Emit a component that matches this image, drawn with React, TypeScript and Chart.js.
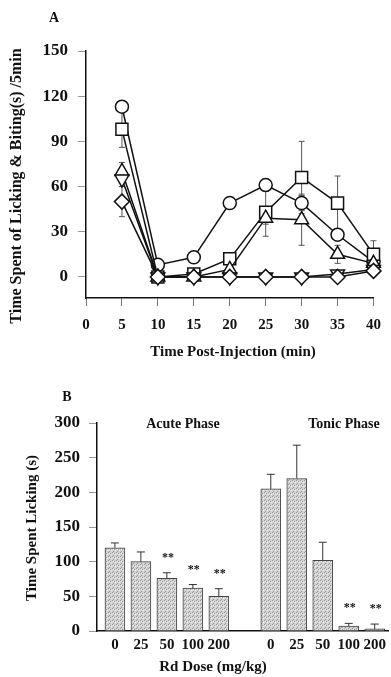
import React, { useEffect, useRef } from 'react';
import { Chart, registerables } from 'chart.js';

Chart.register(...registerables);

const FONT = "'Liberation Serif', 'Times New Roman', serif";

// ---------- Panel A data ----------
const timePoints = [5, 10, 15, 20, 25, 30, 35, 40];
const circleVals = [113, 8, 13, 49, 61, 49, 28, 10];
const squareVals = [98, 0, 2, 12, 43, 66, 49, 15];
const triangleVals = [70, 0, 0, 5, 39, 38, 15, 9];
const invTriangleVals = [65, 0, 0, 0, 0, 0, 2, 5];
const diamondVals = [50, 0, 0, 0, 0, 0, 0, 4];
const circleErr = [3, 2, 2, 3, 4, 5, 4, 3];
const squareErr = [12, 0, 2, 3, 16, 24, 18, 9];
const triangleErr = [6, 0, 0, 3, 4, 17, 6, 3];
const invTriangleErr = [5, 0, 0, 0, 0, 0, 2, 2];
const diamondErr = [10, 0, 0, 0, 0, 0, 0, 2];
const xTicksA = [0, 5, 10, 15, 20, 25, 30, 35, 40];
const yTicksA = [0, 30, 60, 90, 120, 150];

// ---------- Panel B data ----------
const doseLabels = ['0', '25', '50', '100', '200'];
const acuteVals = [120, 100, 76, 62, 50];
const acuteErr = [7, 14, 8, 5, 11];
const acuteSig = ['', '', '**', '**', '**'];
const tonicVals = [205, 220, 102, 7, 3];
const tonicErr = [21, 48, 26, 4, 7];
const tonicSig = ['', '', '', '**', '**'];
const yTicksB = [0, 50, 100, 150, 200, 250, 300];

function makePattern(ctx: CanvasRenderingContext2D) {
  const c = document.createElement('canvas');
  c.width = 4;
  c.height = 4;
  const p = c.getContext('2d')!;
  p.fillStyle = '#d2d2d2';
  p.fillRect(0, 0, 4, 4);
  p.fillStyle = '#9a9a9a';
  p.fillRect(0, 0, 1, 1);
  p.fillRect(2, 1, 1, 1);
  p.fillRect(1, 3, 1, 1);
  p.fillStyle = '#eeeeee';
  p.fillRect(3, 2, 1, 1);
  p.fillRect(1, 1, 1, 1);
  return ctx.createPattern(c, 'repeat');
}

function text(ctx: CanvasRenderingContext2D, s: string, x: number, y: number, font: string, rot = 0) {
  ctx.save();
  ctx.translate(x, y);
  if (rot) ctx.rotate(rot);
  ctx.font = font;
  ctx.fillStyle = '#111';
  ctx.textAlign = 'center';
  ctx.textBaseline = 'middle';
  ctx.fillText(s, 0, 0);
  ctx.restore();
}

const PanelA: React.FC = () => {
  const ref = useRef<HTMLCanvasElement>(null);
  useEffect(() => {
    const series = [
      { vals: diamondVals, err: diamondErr, style: 'rectRot', r: 7.5, rot: 0 },
      { vals: invTriangleVals, err: invTriangleErr, style: 'triangle', r: 8, rot: 180 },
      { vals: triangleVals, err: triangleErr, style: 'triangle', r: 8, rot: 0 },
      { vals: squareVals, err: squareErr, style: 'rect', r: 8.5, rot: 0 },
      { vals: circleVals, err: circleErr, style: 'circle', r: 6.5, rot: 0 },
    ];
    const errPlugin = {
      id: 'errA',
      beforeDatasetsDraw(chart: any) {
        const { ctx } = chart;
        const xs = chart.scales.x;
        const ys = chart.scales.y;
        ctx.save();
        ctx.strokeStyle = '#555';
        ctx.lineWidth = 1;
        series.forEach((s) => {
          s.vals.forEach((v, j) => {
            const e = s.err[j];
            if (!e) return;
            const x = xs.getPixelForValue(timePoints[j]);
            const y1 = ys.getPixelForValue(v + e);
            const y2 = ys.getPixelForValue(v - e);
            ctx.beginPath();
            ctx.moveTo(x, y1);
            ctx.lineTo(x, y2);
            ctx.moveTo(x - 3, y1);
            ctx.lineTo(x + 3, y1);
            ctx.moveTo(x - 3, y2);
            ctx.lineTo(x + 3, y2);
            ctx.stroke();
          });
        });
        ctx.restore();
      },
      afterDraw(chart: any) {
        const ctx = chart.ctx;
        text(ctx, 'A', 54, 18, `bold 14px ${FONT}`);
        text(ctx, 'Time Spent of Licking & Biting(s) /5min', 17, 186, `bold 16px ${FONT}`, -Math.PI / 2);
        text(ctx, 'Time Post-Injection (min)', 233, 352, `bold 15px ${FONT}`);
      },
    };
    const chart = new Chart(ref.current!, {
      type: 'line',
      data: {
        datasets: series.map((s) => ({
          data: s.vals.map((v, j) => ({ x: timePoints[j], y: v })),
          borderColor: '#111',
          borderWidth: 1.5,
          pointStyle: s.style as any,
          pointRadius: s.r,
          pointRotation: s.rot,
          pointBackgroundColor: '#fff',
          pointBorderColor: '#111',
          pointBorderWidth: 1.5,
          tension: 0,
          clip: false as any,
        })),
      },
      options: {
        animation: false,
        responsive: false,
        events: [],
        layout: { padding: { left: 0, top: 51, right: 11, bottom: 0 } },
        plugins: { legend: { display: false }, tooltip: { enabled: false } },
        scales: {
          x: {
            type: 'linear',
            min: 0,
            max: 40,
            afterBuildTicks: (s: any) => {
              s.ticks = xTicksA.map((v) => ({ value: v }));
            },
            afterFit: (s: any) => {
              s.height = 72;
            },
            grid: { drawOnChartArea: false, drawTicks: true, tickLength: 8, color: '#777', lineWidth: 1 },
            border: { display: true, color: '#111', width: 1.5 },
            ticks: { color: '#111', font: { family: FONT, size: 15, weight: 'bold' }, padding: 10, maxRotation: 0, autoSkip: false },
          },
          y: {
            min: -14,
            max: 150,
            afterBuildTicks: (s: any) => {
              s.ticks = yTicksA.map((v) => ({ value: v }));
            },
            afterFit: (s: any) => {
              s.width = 86;
            },
            grid: { drawOnChartArea: false, drawTicks: true, tickLength: 8, color: '#999', lineWidth: 1 },
            border: { display: true, color: '#111', width: 1.5 },
            ticks: { color: '#111', font: { family: FONT, size: 17, weight: 'bold' }, padding: 10 },
          },
        },
      },
      plugins: [errPlugin],
    });
    return () => chart.destroy();
  }, []);
  return <canvas ref={ref} width={391} height={370} style={{ position: 'absolute', left: 0, top: 0, width: 391, height: 370 }} />;
};

const PanelB: React.FC = () => {
  const ref = useRef<HTMLCanvasElement>(null);
  useEffect(() => {
    const canvas = ref.current!;
    const pattern = makePattern(canvas.getContext('2d')!);
    // acute group at slots 0..4, one empty slot, tonic group at slots 6..10
    const labels = [...doseLabels, '', ...doseLabels];
    const values = [...acuteVals, null, ...tonicVals];
    const errs = [...acuteErr, 0, ...tonicErr];
    const sigs = [...acuteSig, '', ...tonicSig];
    const points = values
      .map((v, i) => (v === null ? null : { x: i, y: v }))
      .filter((p) => p !== null) as { x: number; y: number }[];
    const plugin = {
      id: 'errB',
      afterDatasetsDraw(chart: any) {
        const { ctx } = chart;
        const xs = chart.scales.x;
        const ys = chart.scales.y;
        ctx.save();
        ctx.strokeStyle = '#333';
        ctx.lineWidth = 1;
        values.forEach((v, i) => {
          if (v === null) return;
          const x = xs.getPixelForValue(i);
          const y0 = ys.getPixelForValue(v);
          const y1 = ys.getPixelForValue(v + errs[i]);
          ctx.beginPath();
          ctx.moveTo(x, y0);
          ctx.lineTo(x, y1);
          ctx.moveTo(x - 4, y1);
          ctx.lineTo(x + 4, y1);
          ctx.stroke();
          if (sigs[i]) text(ctx, sigs[i], x + 1, y1 - 15, `bold 12px ${FONT}`);
        });
        ctx.restore();
      },
      afterDraw(chart: any) {
        const ctx = chart.ctx;
        text(ctx, 'B', 67, 17, `bold 14px ${FONT}`);
        text(ctx, 'Acute Phase', 183, 44, `bold 14px ${FONT}`);
        text(ctx, 'Tonic Phase', 344, 44, `bold 14px ${FONT}`);
        text(ctx, 'Time Spent Licking (s)', 32, 148, `bold 15px ${FONT}`, -Math.PI / 2);
        text(ctx, 'Rd Dose (mg/kg)', 213, 287, `bold 15px ${FONT}`);
      },
    };
    const chart = new Chart(canvas, {
      type: 'bar',
      data: {
        datasets: [
          {
            data: points as any,
            backgroundColor: pattern as any,
            borderColor: '#444',
            borderWidth: 1,
            barThickness: 20,
          },
        ],
      },
      options: {
        animation: false,
        responsive: false,
        events: [],
        layout: { padding: { left: 0, top: 43, right: 1, bottom: 0 } },
        plugins: { legend: { display: false }, tooltip: { enabled: false } },
        scales: {
          x: {
            type: 'linear',
            offset: false,
            min: -0.69,
            max: 10.54,
            afterBuildTicks: (s: any) => {
              s.ticks = labels.map((l, i) => ({ value: i, label: l })).filter((t) => t.label !== '').map((t) => ({ value: t.value }));
            },
            afterFit: (s: any) => {
              s.height = 46;
            },
            grid: { display: false, drawTicks: false },
            border: { display: true, color: '#111', width: 1.5 },
            ticks: {
              color: '#111',
              font: { family: FONT, size: 15, weight: 'bold' },
              padding: 5,
              maxRotation: 0,
              autoSkip: false,
              callback: (v: any) => labels[Math.round(Number(v))] ?? '',
            },
          },
          y: {
            min: 0,
            max: 300,
            afterBuildTicks: (s: any) => {
              s.ticks = yTicksB.map((v) => ({ value: v }));
            },
            afterFit: (s: any) => {
              s.width = 97;
            },
            grid: { drawOnChartArea: false, drawTicks: true, tickLength: 8, color: '#999', lineWidth: 1 },
            border: { display: true, color: '#111', width: 1.5 },
            ticks: { color: '#111', font: { family: FONT, size: 17, weight: 'bold' }, padding: 9 },
          },
        },
      },
      plugins: [plugin],
    });
    return () => chart.destroy();
  }, []);
  return <canvas ref={ref} width={391} height={297} style={{ position: 'absolute', left: 0, top: 380, width: 391, height: 297 }} />;
};

export default function App() {
  return (
    <div style={{ position: 'fixed', left: 0, top: 0, width: 391, height: 677, background: '#fff', overflow: 'hidden' }}>
      <PanelA />
      <PanelB />
    </div>
  );
}
